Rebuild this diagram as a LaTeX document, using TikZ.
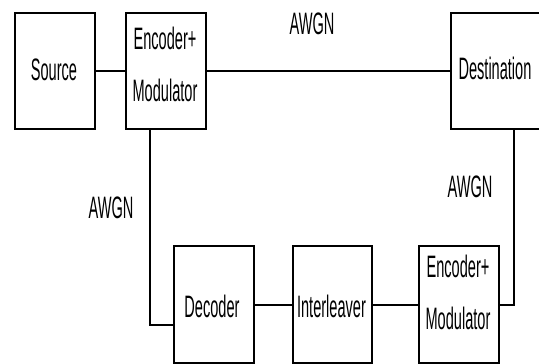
\documentclass[tikz,border=0pt]{standalone}
\usepackage{fontspec}
\setmainfont{Liberation Sans}[FakeStretch=0.47]
\begin{document}
\begin{tikzpicture}[x=1pt,y=-1pt,
  box/.style={draw=black,line width=2pt,fill=white,inner sep=0pt,anchor=north west},
  txt/.style={font=\fontsize{31}{52}\selectfont,text=black},
  hline/.style={line width=2.8pt,draw=black},
  vline/.style={line width=1.7pt,draw=black}]
\useasboundingbox (0,0) rectangle (539,364);
% boxes
\node[box,minimum width=80pt,minimum height=116pt] (src) at (14,12) {};
\node[txt] (srct) at (54,70) {Source};
\node[box,minimum width=80pt,minimum height=116pt] (enc1) at (125,12) {};
\node[txt,align=center] (enc1t) at (165,64) {Encoder+\\Modulator};
\node[box,minimum width=95pt,minimum height=116pt] (dst) at (450,12) {};
\node[txt] (dstt) at (495,68) {Destination};
\node[box,minimum width=80pt,minimum height=117pt] (dec) at (173,245) {};
\node[txt] (dect) at (212,306) {Decoder};
\node[box,minimum width=79pt,minimum height=117pt] (intl) at (292,245) {};
\node[txt] (intlt) at (331.5,306) {Interleaver};
\node[box,minimum width=80pt,minimum height=117pt] (enc2) at (418,245) {};
\node[txt,align=center] (enc2t) at (458,292) {Encoder+\\Modulator};
% labels
\node[txt] (aw1) at (312,24) {AWGN};
\node[txt] (aw2) at (111,208) {AWGN};
\node[txt] (aw3) at (470,187) {AWGN};
% connectors
\coordinate (c1) at (150,325);
\coordinate (c2) at (514,305);
\draw[hline] (src.east |- 0,71) -- (enc1.west |- 0,71);
\draw[hline] (enc1.east |- 0,71) -- (dst.west |- 0,71);
\draw[vline] (enc1.south -| c1) -- (c1) -- (dec.west |- c1);
\draw[hline] (dec.east |- 0,305) -- (intl.west |- 0,305);
\draw[hline] (intl.east |- 0,305) -- (enc2.west |- 0,305);
\draw[vline] (enc2.east |- c2) -- (c2) -- (dst.south -| c2);
\end{tikzpicture}
\end{document}
